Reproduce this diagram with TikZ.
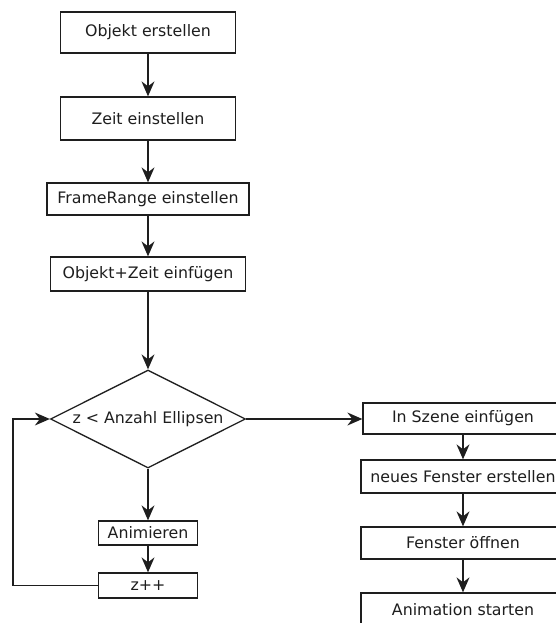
\documentclass[tikz,border=0pt]{standalone}
\usepackage{fontspec}
\setmainfont{DejaVu Sans}
\usetikzlibrary{arrows.meta,shapes.geometric}

\definecolor{ink}{HTML}{1E1E1E}

\tikzset{
  stepbox/.style={draw=ink, line width=1.3pt, fill=white, inner sep=0pt,
    text=ink, font=\fontsize{15.8}{18}\selectfont},
  decision/.style={draw=ink, line width=1.3pt, shape=diamond, inner sep=0pt},
  flow/.style={draw=ink, line width=1.3pt,
    -{Stealth[length=15pt,width=13pt,inset=5pt]}},
}

\begin{document}
\begin{tikzpicture}[x=1pt,y=-1pt]
  \useasboundingbox (0,0) rectangle (556,623);
  \clip (0,0) rectangle (556,623);

  % main column
  \node[stepbox, minimum width=175pt, minimum height=41pt] (obj)   at (148,32.5) {Objekt erstellen};
  \node[stepbox, minimum width=175pt, minimum height=43pt] (zeit)  at (148,118.5) {Zeit einstellen};
  \node[stepbox, minimum width=202pt, minimum height=32pt] (range) at (148,199) {FrameRange einstellen};
  \node[stepbox, minimum width=195pt, minimum height=34pt] (ins)   at (148,274) {Objekt+Zeit einfügen};

  % loop condition
  \node[decision, minimum width=195pt, minimum height=98pt] (cond) at (148,419) {};
  \node[text=ink, font=\fontsize{15.8}{18}\selectfont] (condtext) at (cond.center) {z < Anzahl Ellipsen};

  % loop body
  \node[stepbox, minimum width=99pt, minimum height=24pt] (anim) at (148,533) {Animieren};
  \node[stepbox, minimum width=99pt, minimum height=25pt] (inc)  at (148,585.5) {z++};

  % right column
  \node[stepbox, minimum width=200pt, minimum height=31pt] (szene)   at (463,418.5) {In Szene einfügen};
  \node[stepbox, minimum width=204pt, minimum height=33pt] (fenster) at (463,476.5) {neues Fenster erstellen};
  \node[stepbox, minimum width=204pt, minimum height=32pt] (oeffnen) at (463,543) {Fenster öffnen};
  \node[stepbox, minimum width=204pt, minimum height=34pt] (start)   at (463,610) {Animation starten};

  \coordinate (loopbot) at (13,585.5);
  \coordinate (looptop) at (13,419);

  % connectors
  \draw[flow] (obj) -- (zeit);
  \draw[flow] (zeit) -- (range);
  \draw[flow] (range) -- (ins);
  \draw[flow] (ins) -- (cond.north);
  \draw[flow] (cond.south) -- (anim);
  \draw[flow] (anim) -- (inc);
  \draw[flow] (inc.west) -- (loopbot) -- (looptop) -- (cond.west);
  \draw[flow] (cond.east) -- (cond.east -| szene.west);
  \draw[flow] (szene) -- (fenster);
  \draw[flow] (fenster) -- (oeffnen);
  \draw[flow] (oeffnen) -- (start);
\end{tikzpicture}
\end{document}
